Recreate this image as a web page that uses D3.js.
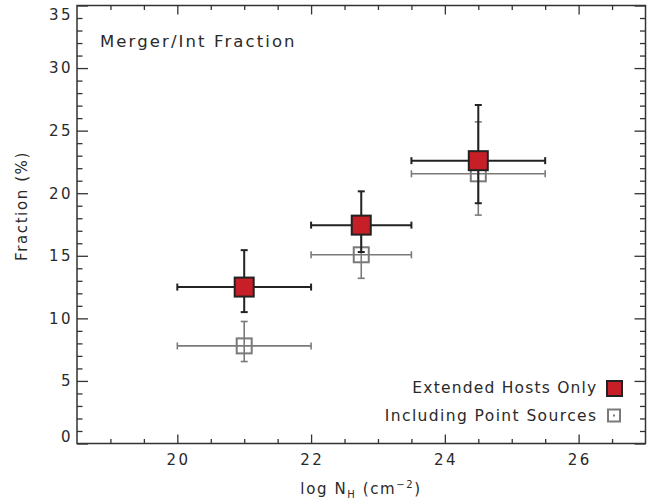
<!DOCTYPE html>
<html><head><meta charset="utf-8">
<script src="https://cdn.jsdelivr.net/npm/d3@7"></script>
<style>body{margin:0;background:#fff}svg{display:block}text{font-family:"DejaVu Sans",sans-serif;fill:#2a2a2a}</style>
</head><body><svg id="c" width="665" height="504"></svg>
<script>
// Data
const xCenters = [21, 22.75, 24.5];
const xLow = [20, 22, 23.5];
const xHigh = [22, 23.5, 25.5];
const extVals = [12.5, 17.45, 22.6];
const extLow = [10.5, 15.3, 19.2];
const extHigh = [15.45, 20.15, 27.05];
const ptVals = [7.8, 15.08, 21.55];
const ptLow = [6.55, 13.2, 18.25];
const ptHigh = [9.75, 16.9, 25.7];
const xTicks = [20, 22, 24, 26];
const yTicks = [0, 5, 10, 15, 20, 25, 30, 35];
const seriesNames = ["Extended Hosts Only", "Including Point Sources"];
const titleText = "Merger/Int Fraction";

const svg = d3.select("#c");
const L = 77, R = 645.5, T = 5.5, B = 443.5;
const x = d3.scaleLinear().domain([18.5, 27]).range([L, R]);
const y = d3.scaleLinear().domain([0, 35]).range([B, T]);
const ax = "#333";

function tickAxis(gen, tx, ty, vals, size) {
  const g = svg.append("g").attr("transform", `translate(${tx},${ty})`)
    .call(gen.tickValues(vals).tickSize(size).tickFormat(""));
  g.select(".domain").remove();
  g.selectAll("line").attr("stroke", ax).attr("stroke-width", 1.3);
}
const xMinor = d3.range(18.5, 27.01, 0.5).filter(v => v % 2 !== 0 && v > 18.5 && v < 27);
const yMinor = d3.range(1, 35, 1).filter(v => v % 5 !== 0);
tickAxis(d3.axisTop(x), 0, B, xTicks, 9);
tickAxis(d3.axisTop(x), 0, B, xMinor, 4.5);
tickAxis(d3.axisBottom(x), 0, T, xTicks, 9);
tickAxis(d3.axisBottom(x), 0, T, xMinor, 4.5);
tickAxis(d3.axisRight(y), L, 0, yTicks, 11);
tickAxis(d3.axisRight(y), L, 0, yMinor, 5.5);
tickAxis(d3.axisLeft(y), R, 0, yTicks, 11);
tickAxis(d3.axisLeft(y), R, 0, yMinor, 5.5);

svg.append("rect").attr("x", L).attr("y", T).attr("width", R - L).attr("height", B - T)
  .attr("fill", "none").attr("stroke", ax).attr("stroke-width", 1.5);

// Tick labels
svg.append("g").selectAll("text").data(xTicks).join("text")
  .attr("x", d => x(d) + 1.2).attr("y", 465).attr("text-anchor", "middle")
  .attr("font-size", 15).attr("letter-spacing", 2.4).text(d => d);
svg.append("g").selectAll("text").data(yTicks).join("text")
  .attr("x", 73).attr("y", d => Math.min(437, Math.max(14.5, y(d))))
  .attr("dy", "0.36em").attr("text-anchor", "end")
  .attr("font-size", 15).attr("letter-spacing", 2.4).text(d => d);

// Axis titles
const xl = svg.append("text").attr("x", 361).attr("y", 494).attr("text-anchor", "middle")
  .attr("font-size", 15).attr("letter-spacing", 1.6);
xl.append("tspan").text("log N");
xl.append("tspan").attr("font-size", 10).attr("dy", 4).text("H");
xl.append("tspan").attr("dy", -4).text(" (cm");
xl.append("tspan").attr("font-size", 10).attr("dy", -6).text("−2");
xl.append("tspan").attr("dy", 6).text(")");
svg.append("text").attr("transform", `translate(27,206) rotate(-90)`)
  .attr("text-anchor", "middle").attr("font-size", 15).attr("letter-spacing", 1.6).text("Fraction (%)");

svg.append("text").attr("x", 100).attr("y", 47).attr("font-size", 16.5).attr("letter-spacing", 2.1).text(titleText);

// Error bars
function errBars(vals, lo, hi, color, w, cap) {
  const g = svg.append("g").attr("stroke", color).attr("stroke-width", w);
  xCenters.forEach((xc, i) => {
    const yc = y(vals[i]);
    g.append("line").attr("x1", x(xLow[i])).attr("x2", x(xHigh[i])).attr("y1", yc).attr("y2", yc);
    g.append("line").attr("x1", x(xLow[i])).attr("x2", x(xLow[i])).attr("y1", yc - cap).attr("y2", yc + cap);
    g.append("line").attr("x1", x(xHigh[i])).attr("x2", x(xHigh[i])).attr("y1", yc - cap).attr("y2", yc + cap);
    g.append("line").attr("x1", x(xc)).attr("x2", x(xc)).attr("y1", y(lo[i])).attr("y2", y(hi[i]));
    g.append("line").attr("x1", x(xc) - cap).attr("x2", x(xc) + cap).attr("y1", y(lo[i])).attr("y2", y(lo[i]));
    g.append("line").attr("x1", x(xc) - cap).attr("x2", x(xc) + cap).attr("y1", y(hi[i])).attr("y2", y(hi[i]));
  });
  return g;
}
const gray = "#7a7a7a", red = "#c71f28", dark = "#222";
errBars(ptVals, ptLow, ptHigh, gray, 1.6, 3.5);
svg.append("g").selectAll("rect").data(ptVals).join("rect")
  .attr("x", (d, i) => x(xCenters[i]) - 7.5).attr("y", d => y(d) - 7.5)
  .attr("width", 15).attr("height", 15).attr("fill", "none").attr("stroke", gray).attr("stroke-width", 2);
errBars(extVals, extLow, extHigh, dark, 2, 3.5);
svg.append("g").selectAll("rect").data(extVals).join("rect")
  .attr("x", (d, i) => x(xCenters[i]) - 9.5).attr("y", d => y(d) - 9.5)
  .attr("width", 19).attr("height", 19).attr("fill", red).attr("stroke", dark).attr("stroke-width", 2);

// Legend
svg.append("text").attr("x", 597.5).attr("y", 393).attr("text-anchor", "end").attr("font-size", 15.5)
  .attr("letter-spacing", 1.2).text(seriesNames[0]);
svg.append("rect").attr("x", 607).attr("y", 381).attr("width", 15).attr("height", 15)
  .attr("fill", red).attr("stroke", dark).attr("stroke-width", 2);
svg.append("text").attr("x", 597.5).attr("y", 421).attr("text-anchor", "end").attr("font-size", 15.5)
  .attr("letter-spacing", 1.4).text(seriesNames[1]);
svg.append("rect").attr("x", 608).attr("y", 409.5).attr("width", 12).attr("height", 12)
  .attr("fill", "none").attr("stroke", gray).attr("stroke-width", 2);
svg.append("rect").attr("x", 613).attr("y", 414.5).attr("width", 2).attr("height", 2).attr("fill", gray);
</script></body></html>
